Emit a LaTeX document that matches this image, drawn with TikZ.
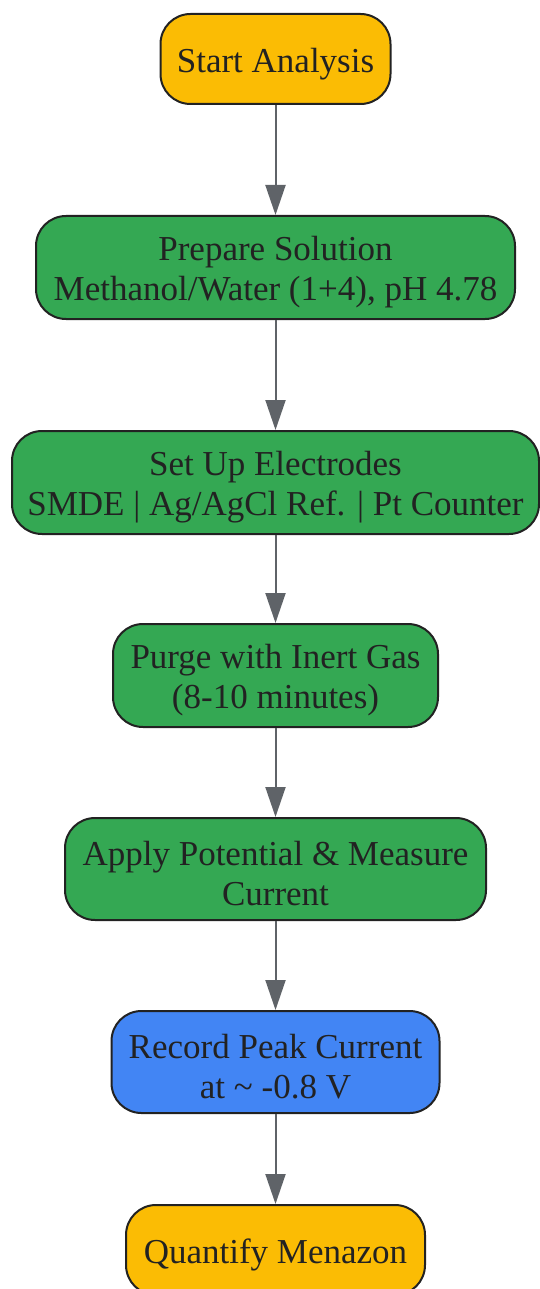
\documentclass[tikz,border=0pt]{standalone}
\usepackage{fontspec}
\setmainfont{Liberation Serif}
\usetikzlibrary{arrows.meta}
\definecolor{ylw}{HTML}{FBBC04}
\definecolor{grn}{HTML}{34A853}
\definecolor{blu}{HTML}{4285F4}
\definecolor{edge}{HTML}{222222}
\definecolor{arr}{HTML}{5F6368}
\begin{document}
\begin{tikzpicture}[x=1pt,y=1pt,
  box/.style={draw=edge, line width=2pt, rounded corners=30pt, inner sep=0pt},
  txt/.style={align=center, text=edge, inner sep=0pt, yshift=-5pt, font=\fontsize{35}{40}\selectfont},
  conn/.style={draw=arr, line width=2pt, -{Triangle[length=30pt,width=20pt]}}]
\useasboundingbox (0,0) rectangle (539,-1289);
\node[box, fill=ylw, minimum width=230pt, minimum height=90pt, label={[txt]center:Start Analysis}] (n1) at (275.5,-59) {};
\node[box, fill=grn, minimum width=479pt, minimum height=103pt, label={[txt]center:{Prepare Solution\\Methanol/Water (1+4), pH 4.78}}] (n2) at (275.5,-267.5) {};
\node[box, fill=grn, minimum width=527pt, minimum height=103pt, label={[txt]center:{Set Up Electrodes\\SMDE | Ag/AgCl Ref. | Pt Counter}}] (n3) at (275.5,-482.5) {};
\node[box, fill=grn, minimum width=325pt, minimum height=103pt, label={[txt]center:{Purge with Inert Gas\\(8-10 minutes)}}] (n4) at (275.5,-675.5) {};
\node[box, fill=grn, minimum width=421pt, minimum height=102pt, label={[txt]center:{Apply Potential \& Measure\\Current}}] (n5) at (275.5,-869) {};
\node[box, fill=blu, minimum width=328pt, minimum height=102pt, label={[txt]center:{Record Peak Current\\at \textasciitilde{} -0.8 V}}] (n6) at (275.5,-1062) {};
\node[box, fill=ylw, minimum width=299pt, minimum height=90pt, label={[txt]center:Quantify Menazon}] (n7) at (275.5,-1250) {};
\draw[conn] (n1) -- (n2);
\draw[conn] (n2) -- (n3);
\draw[conn] (n3) -- (n4);
\draw[conn] (n4) -- (n5);
\draw[conn] (n5) -- (n6);
\draw[conn] (n6) -- (n7);
\end{tikzpicture}
\end{document}
